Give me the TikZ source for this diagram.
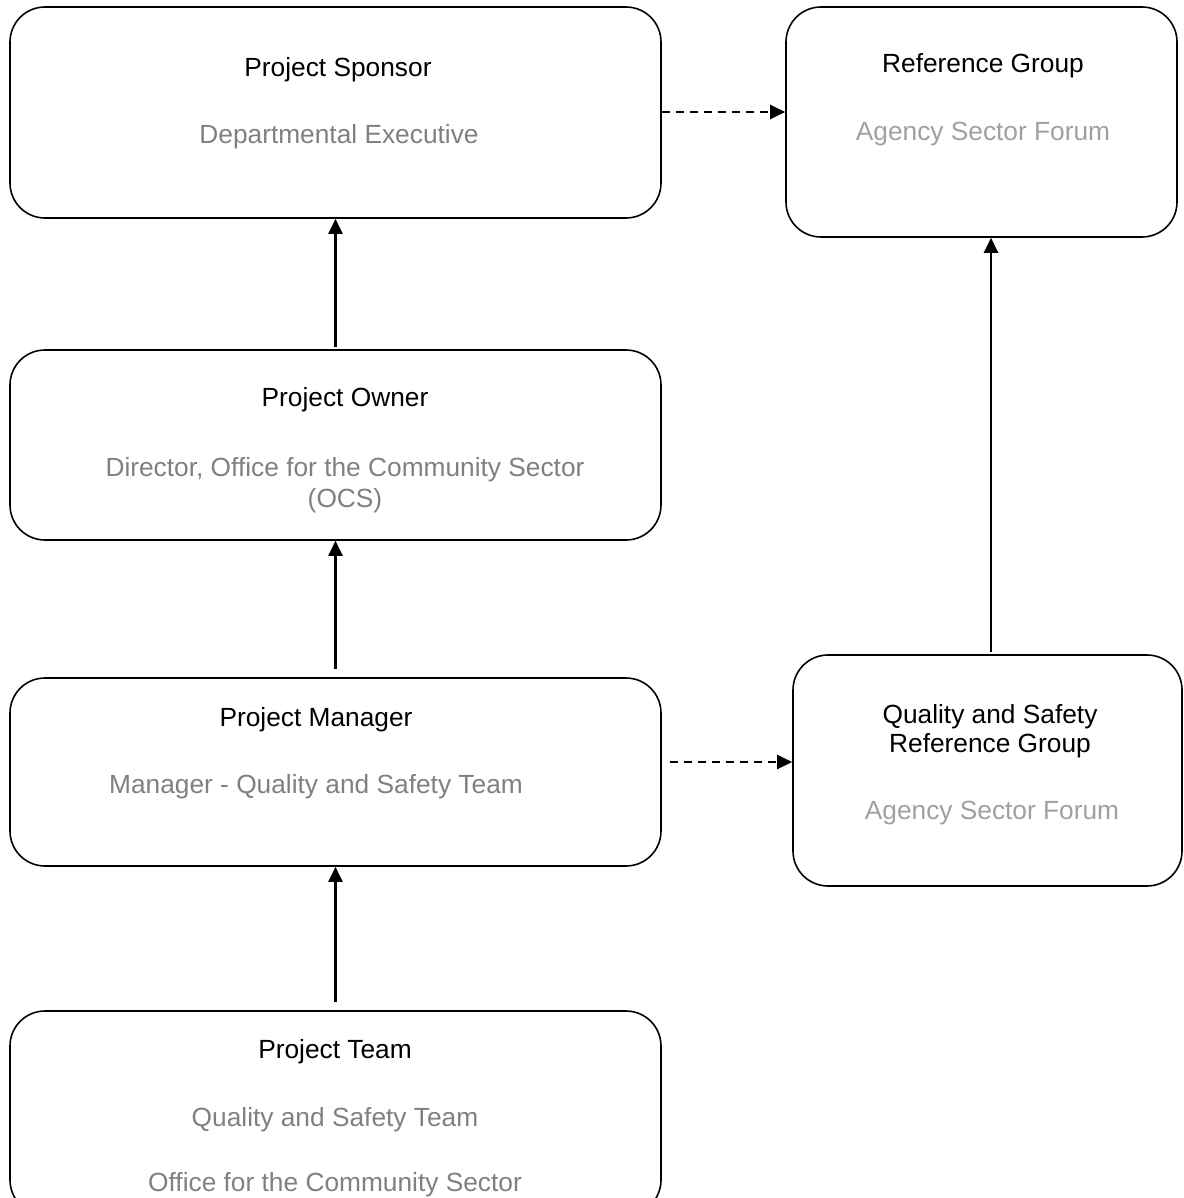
\documentclass[tikz,border=0pt]{standalone}
\usepackage{fontspec}
\setmainfont{Liberation Sans}
\usetikzlibrary{arrows.meta}
\definecolor{subgray}{HTML}{808080}
\definecolor{palegray}{HTML}{A0A0A0}
\tikzset{
  box/.style={draw, line width=1.6pt, rounded corners=35pt, inner sep=0pt},
  title/.style={font=\fontsize{26.3}{30}\selectfont, align=center, inner sep=0pt, yshift=-3pt},
  sub/.style={title, text=subgray},
  subpale/.style={title, text=palegray},
  link/.style={line width=2.2pt, -{Triangle[length=15pt,width=14pt]}},
  dashlink/.style={link, dash pattern=on 8pt off 6pt}
}
\begin{document}
\begin{tikzpicture}[x=1pt, y=-1pt]
        \useasboundingbox (0, 0) rectangle (1183, 1198);
        % boxes
        \node[box, minimum width=651pt, minimum height=211pt] (sponsor) at (335.5, 112.5) {};
        \node[box, minimum width=391pt, minimum height=230pt] (refgroup) at (981.5, 122) {};
        \node[box, minimum width=651pt, minimum height=190pt] (owner) at (335.5, 445) {};
        \node[box, minimum width=651pt, minimum height=188pt] (manager) at (335.5, 772) {};
        \node[box, minimum width=389pt, minimum height=231pt] (qsgroup) at (987.5, 770.5) {};
        \node[box, minimum width=651pt, minimum height=204pt] (team) at (335.5, 1113) {};
        % texts
        \node[title] (sponsortitle) at (338, 67) {Project Sponsor};
        \node[sub] (sponsorsub) at (339, 134) {Departmental Executive};
        \node[title] (reftitle) at (983, 63) {Reference Group};
        \node[subpale] (refsub) at (983, 131) {Agency Sector Forum};
        \node[title] (ownertitle) at (345, 397) {Project Owner};
        \node[sub, font=\fontsize{26.3}{31}\selectfont] (ownersub) at (345, 482) {Director, Office for the Community Sector\\(OCS)};
        \node[title] (managertitle) at (316, 717) {Project Manager};
        \node[sub] (managersub) at (316, 784) {Manager - Quality and Safety Team};
        \node[title, font=\fontsize{26.3}{29}\selectfont] (qstitle) at (990, 728) {Quality and Safety\\Reference Group};
        \node[subpale] (qssub) at (992, 810) {Agency Sector Forum};
        \node[title] (teamtitle) at (335, 1049) {Project Team};
        \node[sub] (teamsub) at (335, 1117) {Quality and Safety Team};
        \node[sub] (teamsubb) at (335, 1182) {Office for the Community Sector};
        % connectors
        \draw[link] ([yshift=2pt]owner.north) -- (sponsor.south);
        \draw[link] ([yshift=8pt]manager.north) -- (owner.south);
        \draw[link] ([yshift=8pt]team.north) -- (manager.south);
        \draw[link] ([xshift=3.5pt,yshift=2pt]qsgroup.north) -- ([xshift=9.5pt]refgroup.south);
        \draw[dashlink] (sponsor.east |- 0, 112) -- (refgroup.west |- 0, 112);
        \draw[dashlink] ([xshift=8pt]manager.east |- 0, 762) -- (qsgroup.west |- 0, 762);
    \end{tikzpicture}
\end{document}
